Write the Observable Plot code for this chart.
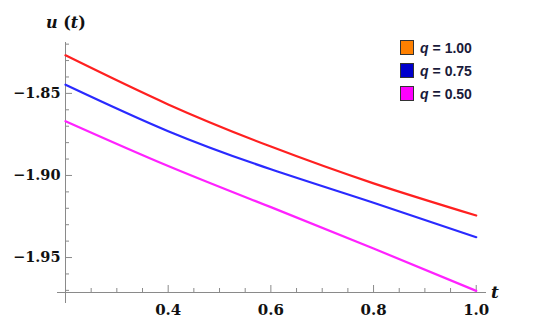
<!DOCTYPE html>
<html>
<head>
<meta charset="utf-8">
<script src="https://cdn.jsdelivr.net/npm/d3@7"></script>
<script src="https://cdn.jsdelivr.net/npm/@observablehq/plot@0.6"></script>
<style>
  html, body { margin: 0; padding: 0; background: #fff; }
  #wrap { position: relative; width: 541px; height: 321px; overflow: hidden; }
  .lab { position: absolute; font-family: "DejaVu Serif", serif; font-weight: bold; color: #111; white-space: nowrap; }
  .lab i { font-style: italic; }
  #legend { position: absolute; left: 400px; top: 36px; font-family: "Liberation Sans", Arial, sans-serif; font-weight: bold; font-size: 14px; color: #1a1a3a; }
  .row { display: flex; align-items: center; height: 23px; }
  .sw { width: 14px; height: 15px; border: 1px solid #333; margin-right: 6px; box-sizing: border-box; }
  .row i { font-style: italic; margin-right: 4px; }
</style>
</head>
<body>
<div id="wrap"></div>
<script>
// ---- data ----
const t = [0.2, 0.4, 0.6, 0.8, 1.0];
const q100 = [-1.8268, -1.8567, -1.8824, -1.9048, -1.9244];
const q075 = [-1.8447, -1.8730, -1.8962, -1.9166, -1.9376];
const q050 = [-1.8669, -1.8942, -1.9193, -1.9445, -1.9703];
const seriesNames = ["q = 1.00", "q = 0.75", "q = 0.50"];
const lineColors = ["#ff2020", "#2a2aff", "#ff22ff"];
const legendColors = ["#ff8000", "#0000cc", "#ff00ff"];
const xTickLabels = [0.4, 0.6, 0.8, 1.0];
const yTickLabels = [-1.95, -1.90, -1.85];

const xDomain = [0.2, 1.02];
const yDomain = [-1.9713, -1.819];

const rows = [];
[q100, q075, q050].forEach((vals, s) => {
  vals.forEach((v, i) => rows.push({series: seriesNames[s], t: t[i], u: v}));
});

const xMinor = d3.range(0.25, 1.001, 0.05).filter(v => !xTickLabels.some(m => Math.abs(m - v) < 1e-6));
const yMinorAll = d3.range(-1.97, -1.8195, 0.01);
const yMinor = yMinorAll.filter(v => !yTickLabels.some(m => Math.abs(m - v) < 1e-6));

const axisColor = "#8a8a8a";
const serif = "DejaVu Serif";

const chart = Plot.plot({
  width: 541,
  height: 321,
  marginLeft: 65,
  marginRight: 55,
  marginTop: 42,
  marginBottom: 29,
  x: {domain: xDomain, axis: null},
  y: {domain: yDomain, axis: null},
  style: {background: "#fff"},
  marks: [
    Plot.ruleX([xDomain[0]], {stroke: axisColor, strokeWidth: 1, insetBottom: -11}),
    Plot.ruleY([yDomain[0]], {stroke: axisColor, strokeWidth: 1, insetLeft: -8}),
    Plot.ruleX(xTickLabels, {x: d => d, y1: yDomain[0], y2: yDomain[0], insetTop: -7, stroke: axisColor}),
    Plot.ruleX(xMinor, {x: d => d, y1: yDomain[0], y2: yDomain[0], insetTop: -4, stroke: axisColor}),
    Plot.ruleY(yTickLabels, {y: d => d, x1: xDomain[0], x2: xDomain[0], insetRight: -7, stroke: axisColor}),
    Plot.ruleY(yMinor, {y: d => d, x1: xDomain[0], x2: xDomain[0], insetRight: -4, stroke: axisColor}),
    Plot.text(xTickLabels, {x: d => d, y: yDomain[0], text: d => d3.format(".1f")(d), dy: 18, fontSize: 15, fontWeight: "bold", fontFamily: serif, fill: "#111"}),
    Plot.text(yTickLabels, {y: d => d, x: xDomain[0], text: d => d3.format(".2f")(d), dx: -5, textAnchor: "end", fontSize: 14.5, fontWeight: "bold", fontFamily: serif, fill: "#111"}),
    Plot.line(rows, {x: "t", y: "u", z: "series", stroke: d => lineColors[seriesNames.indexOf(d.series)], strokeWidth: 2.2, curve: "natural"})
  ]
});

const wrap = document.getElementById("wrap");
wrap.appendChild(chart);

const yl = document.createElement("div");
yl.className = "lab";
yl.style.cssText = "left:46px; top:13px; font-size:16px;";
yl.innerHTML = "<i>u</i> (<i>t</i>)";
wrap.appendChild(yl);

const xl = document.createElement("div");
xl.className = "lab";
xl.style.cssText = "left:491px; top:282px; font-size:17px;";
xl.innerHTML = "<i>t</i>";
wrap.appendChild(xl);

const lg = document.createElement("div");
lg.id = "legend";
seriesNames.forEach((name, i) => {
  const r = document.createElement("div");
  r.className = "row";
  const parts = name.split(" ");
  r.innerHTML = `<div class="sw" style="background:${legendColors[i]}"></div><i>${parts[0]}</i>${parts.slice(1).join(" ")}`;
  lg.appendChild(r);
});
wrap.appendChild(lg);
</script>
</body>
</html>
